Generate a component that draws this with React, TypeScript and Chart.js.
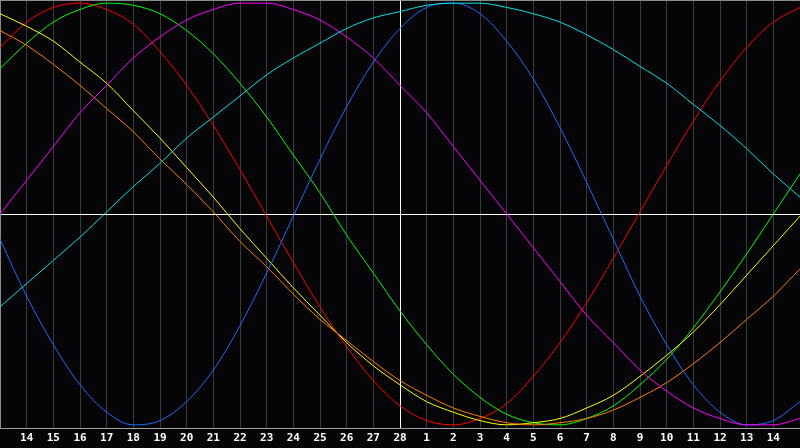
import React, { useEffect, useRef } from 'react';
import { Chart, registerables } from 'chart.js';

Chart.register(...registerables);

// days shown: Feb 13 .. Mar 15 (first and last have no label)
const days = [
  '13', '14', '15', '16', '17', '18', '19', '20', '21', '22', '23', '24', '25', '26', '27', '28',
  '1', '2', '3', '4', '5', '6', '7', '8', '9', '10', '11', '12', '13', '14', '15',
];

const blue = [
  -0.12, -0.39, -0.62, -0.81, -0.94, -1.0, -0.98, -0.89, -0.74, -0.53, -0.28, -0.01, 0.26, 0.51, 0.72, 0.88,
  0.98, 1.0, 0.95, 0.82, 0.64, 0.41, 0.15, -0.12, -0.39, -0.62, -0.81, -0.94, -1.0, -0.98, -0.89,
];
const red = [
  0.79, 0.91, 0.98, 1.0, 0.97, 0.9, 0.77, 0.61, 0.42, 0.21, -0.01, -0.23, -0.44, -0.63, -0.79, -0.91,
  -0.98, -1.0, -0.97, -0.9, -0.77, -0.61, -0.42, -0.21, 0.01, 0.23, 0.44, 0.63, 0.79, 0.91, 0.98,
];
const green = [
  0.69, 0.81, 0.91, 0.97, 1.0, 0.99, 0.95, 0.87, 0.76, 0.62, 0.46, 0.28, 0.1, -0.1, -0.28, -0.46,
  -0.62, -0.76, -0.87, -0.95, -0.99, -1.0, -0.97, -0.91, -0.81, -0.69, -0.54, -0.37, -0.19, 0.0, 0.19,
];
const magenta = [
  0.0, 0.16, 0.32, 0.48, 0.61, 0.74, 0.84, 0.92, 0.97, 1.0, 1.0, 0.97, 0.92, 0.84, 0.74, 0.61,
  0.48, 0.32, 0.16, 0.0, -0.16, -0.32, -0.48, -0.61, -0.74, -0.84, -0.92, -0.97, -1.0, -1.0, -0.97,
];
const cyan = [
  -0.44, -0.33, -0.22, -0.11, 0.01, 0.13, 0.24, 0.36, 0.46, 0.56, 0.66, 0.74, 0.81, 0.88, 0.93, 0.96,
  0.99, 1.0, 1.0, 0.98, 0.95, 0.91, 0.85, 0.78, 0.7, 0.62, 0.52, 0.42, 0.31, 0.19, 0.08,
];
const yellow = [
  0.95, 0.89, 0.82, 0.72, 0.62, 0.49, 0.36, 0.22, 0.08, -0.07, -0.21, -0.35, -0.48, -0.61, -0.72, -0.81,
  -0.89, -0.94, -0.98, -1.0, -0.99, -0.97, -0.92, -0.86, -0.77, -0.67, -0.56, -0.43, -0.29, -0.15, -0.01,
];
const orange = [
  0.87, 0.8, 0.71, 0.61, 0.5, 0.39, 0.26, 0.14, 0.01, -0.13, -0.25, -0.38, -0.5, -0.6, -0.7, -0.79,
  -0.86, -0.92, -0.96, -0.99, -1.0, -0.99, -0.97, -0.93, -0.87, -0.8, -0.71, -0.61, -0.5, -0.39, -0.26,
];

const YLIM = 1.015;

const BioChart = () => {
  const chartRef = useRef<HTMLCanvasElement>(null);
  const chartInstanceRef = useRef<Chart | null>(null);

  useEffect(() => {
    const canvas = chartRef.current;
    if (!canvas) return;
    const ctx = canvas.getContext('2d');
    if (!ctx) return;

    const line = (data: number[], color: string) => ({
      data,
      borderColor: color,
      borderWidth: 1,
      pointRadius: 0,
      pointHoverRadius: 0,
      cubicInterpolationMode: 'monotone' as const,
      fill: false,
    });

    chartInstanceRef.current = new Chart(ctx, {
      type: 'line',
      data: {
        labels: days,
        datasets: [
          line(cyan, '#00e4e4'),
          line(magenta, '#ff00ff'),
          line(blue, '#1a6eff'),
          line(orange, '#ff8000'),
          line(yellow, '#ffff00'),
          line(green, '#00ff00'),
          line(red, '#ff0000'),
        ],
      },
      options: {
        animation: false,
        responsive: true,
        maintainAspectRatio: false,
        layout: { autoPadding: false, padding: 0 },
        plugins: {
          legend: { display: false },
          tooltip: { enabled: false },
        },
        scales: {
          x: {
            offset: false,
            grid: {
              drawTicks: true,
              tickLength: 1,
              tickColor: 'rgba(0,0,0,0)',
              lineWidth: 1,
              color: (c: any) => {
                if (c.index === 15) return '#ffffff';
                if (c.index === 0 || c.index === days.length - 1) return '#8a8a8a';
                return '#3a3a3a';
              },
            },
            border: { color: '#a0a0a0', width: 1 },
            ticks: {
              autoSkip: false,
              maxRotation: 0,
              padding: 0,
              color: '#ffffff',
              font: { family: '"DejaVu Sans Mono"', size: 11, weight: 'bold', lineHeight: '19px' },
              callback: (_v: any, i: number) => (i === 0 || i === days.length - 1 ? '' : days[i]),
            },
          },
          y: {
            min: -YLIM,
            max: YLIM,
            afterBuildTicks: (scale: any) => {
              scale.ticks = [{ value: -YLIM }, { value: 0 }, { value: YLIM }];
            },
            grid: {
              drawTicks: false,
              color: (c: any) => (c.tick && c.tick.value === 0 ? '#ffffff' : '#8a8a8a'),
            },
            border: { color: '#8a8a8a', width: 1 },
            ticks: { display: false },
          },
        },
      },
    });

    return () => {
      if (chartInstanceRef.current) {
        chartInstanceRef.current.destroy();
      }
    };
  }, []);

  return (
    <div style={{ width: 800, height: 448, background: '#050507', position: 'relative' }}>
      <canvas ref={chartRef}></canvas>
    </div>
  );
};

export default function App() {
  useEffect(() => {
    document.body.style.margin = '0';
    document.body.style.background = '#050507';
  }, []);
  return <BioChart />;
}
